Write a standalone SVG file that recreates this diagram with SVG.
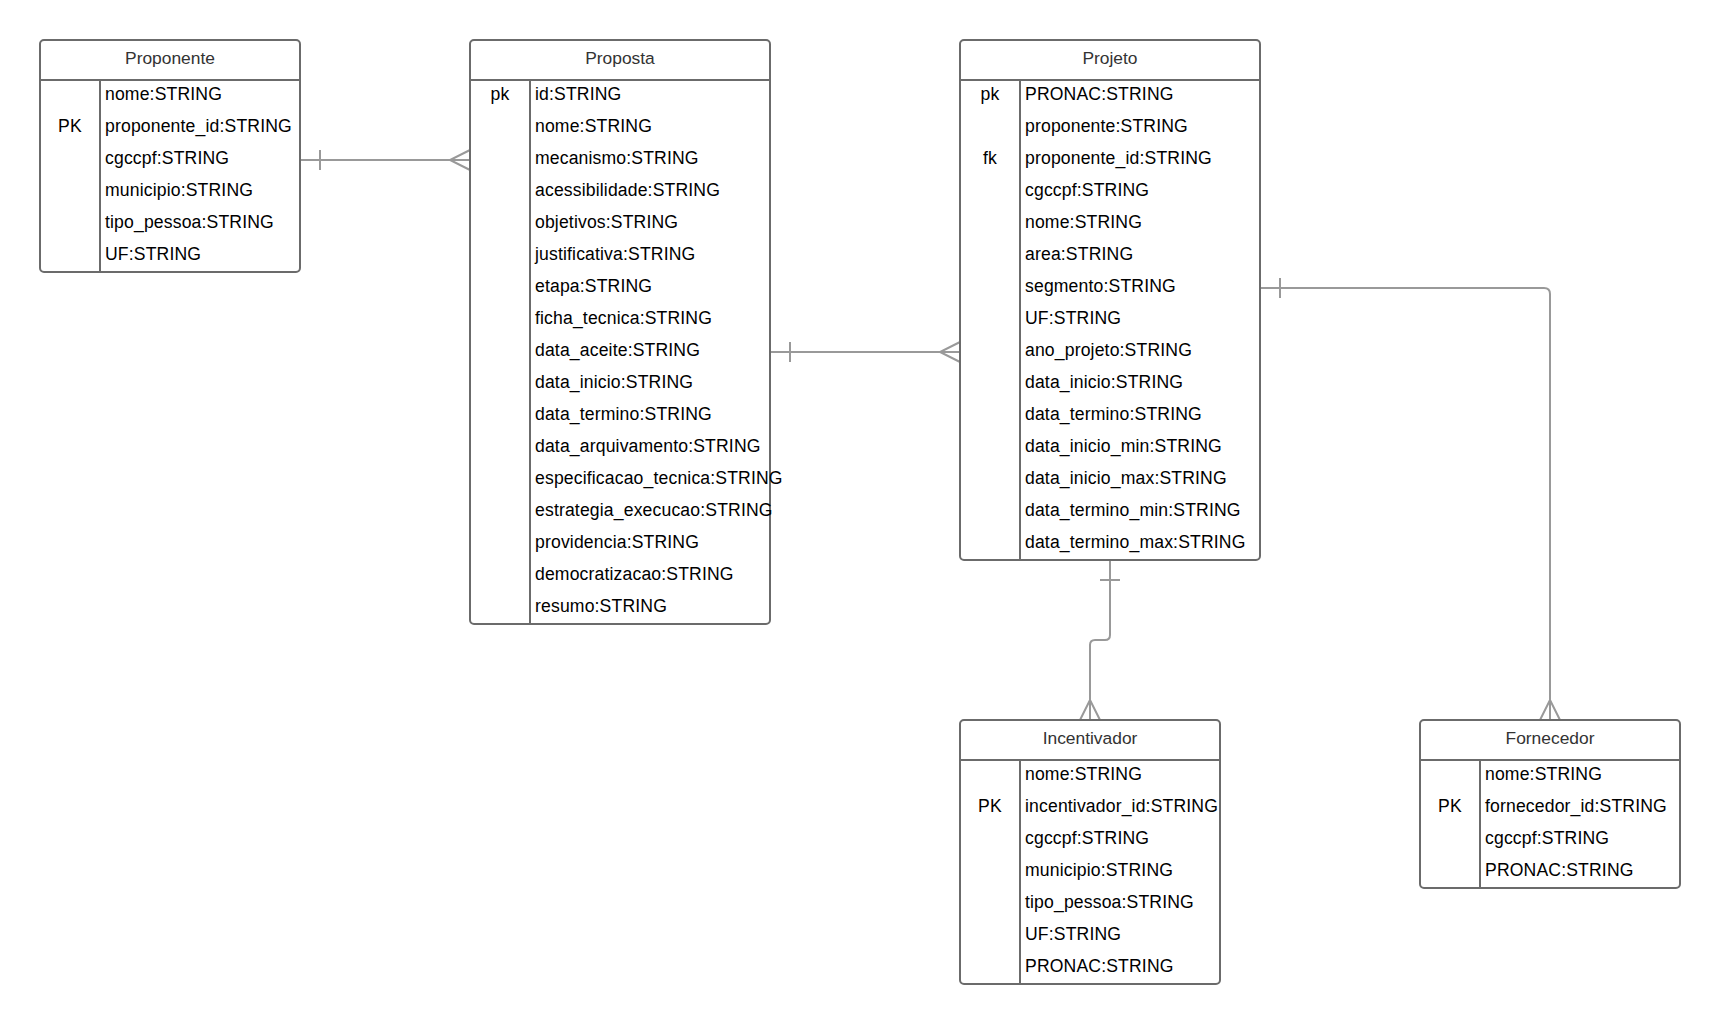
<svg xmlns="http://www.w3.org/2000/svg" width="1720" height="1024" viewBox="0 0 1720 1024">
<style>
.box{fill:#fff;stroke:#6b6b6b;stroke-width:2}
.ln{stroke:#6b6b6b;stroke-width:2;fill:none}
.t{font-family:"Liberation Sans",Arial,sans-serif;font-size:17.6px;letter-spacing:0.15px;fill:#000}
.h{font-family:"Liberation Sans",Arial,sans-serif;font-size:17.4px;fill:#333;text-anchor:middle}
.k{text-anchor:middle}
.c{stroke:#999;stroke-width:2;fill:none}
</style>
<rect width="1720" height="1024" fill="#fff"/>
<g id="connectors">
<path class="c" d="M300 160H470M320 150V170M470 150L450 160L470 170"/>
<path class="c" d="M770 352H960M790 342V362M960 342L940 352L960 362"/>
<path class="c" d="M1260 288H1544Q1550 288 1550 294V720M1280 278V298M1540 720L1550 700L1560 720"/>
<path class="c" d="M1110 560V635Q1110 640 1105 640H1095Q1090 640 1090 645V720M1100 580H1120M1080 720L1090 700L1100 720"/>
</g>
<g id="proponente">
<rect class="box" x="40" y="40" width="260" height="232" rx="4"/>
<path class="ln" d="M40 80H300M100 80V272"/>
<text class="h" x="170" y="63.5">Proponente</text>
<text class="t k" x="70" y="132">PK</text>
<text class="t" x="105" y="100">nome:STRING</text>
<text class="t" x="105" y="132">proponente_id:STRING</text>
<text class="t" x="105" y="164">cgccpf:STRING</text>
<text class="t" x="105" y="196">municipio:STRING</text>
<text class="t" x="105" y="228">tipo_pessoa:STRING</text>
<text class="t" x="105" y="260">UF:STRING</text>
</g>
<g id="proposta">
<rect class="box" x="470" y="40" width="300" height="584" rx="4"/>
<path class="ln" d="M470 80H770M530 80V624"/>
<text class="h" x="620" y="63.5">Proposta</text>
<text class="t k" x="500" y="100">pk</text>
<text class="t" x="535" y="100">id:STRING</text>
<text class="t" x="535" y="132">nome:STRING</text>
<text class="t" x="535" y="164">mecanismo:STRING</text>
<text class="t" x="535" y="196">acessibilidade:STRING</text>
<text class="t" x="535" y="228">objetivos:STRING</text>
<text class="t" x="535" y="260">justificativa:STRING</text>
<text class="t" x="535" y="292">etapa:STRING</text>
<text class="t" x="535" y="324">ficha_tecnica:STRING</text>
<text class="t" x="535" y="356">data_aceite:STRING</text>
<text class="t" x="535" y="388">data_inicio:STRING</text>
<text class="t" x="535" y="420">data_termino:STRING</text>
<text class="t" x="535" y="452">data_arquivamento:STRING</text>
<text class="t" x="535" y="484">especificacao_tecnica:STRING</text>
<text class="t" x="535" y="516">estrategia_execucao:STRING</text>
<text class="t" x="535" y="548">providencia:STRING</text>
<text class="t" x="535" y="580">democratizacao:STRING</text>
<text class="t" x="535" y="612">resumo:STRING</text>
</g>
<g id="projeto">
<rect class="box" x="960" y="40" width="300" height="520" rx="4"/>
<path class="ln" d="M960 80H1260M1020 80V560"/>
<text class="h" x="1110" y="63.5">Projeto</text>
<text class="t k" x="990" y="100">pk</text>
<text class="t k" x="990" y="164">fk</text>
<text class="t" x="1025" y="100">PRONAC:STRING</text>
<text class="t" x="1025" y="132">proponente:STRING</text>
<text class="t" x="1025" y="164">proponente_id:STRING</text>
<text class="t" x="1025" y="196">cgccpf:STRING</text>
<text class="t" x="1025" y="228">nome:STRING</text>
<text class="t" x="1025" y="260">area:STRING</text>
<text class="t" x="1025" y="292">segmento:STRING</text>
<text class="t" x="1025" y="324">UF:STRING</text>
<text class="t" x="1025" y="356">ano_projeto:STRING</text>
<text class="t" x="1025" y="388">data_inicio:STRING</text>
<text class="t" x="1025" y="420">data_termino:STRING</text>
<text class="t" x="1025" y="452">data_inicio_min:STRING</text>
<text class="t" x="1025" y="484">data_inicio_max:STRING</text>
<text class="t" x="1025" y="516">data_termino_min:STRING</text>
<text class="t" x="1025" y="548">data_termino_max:STRING</text>
</g>
<g id="incentivador">
<rect class="box" x="960" y="720" width="260" height="264" rx="4"/>
<path class="ln" d="M960 760H1220M1020 760V984"/>
<text class="h" x="1090" y="743.5">Incentivador</text>
<text class="t k" x="990" y="812">PK</text>
<text class="t" x="1025" y="780">nome:STRING</text>
<text class="t" x="1025" y="812">incentivador_id:STRING</text>
<text class="t" x="1025" y="844">cgccpf:STRING</text>
<text class="t" x="1025" y="876">municipio:STRING</text>
<text class="t" x="1025" y="908">tipo_pessoa:STRING</text>
<text class="t" x="1025" y="940">UF:STRING</text>
<text class="t" x="1025" y="972">PRONAC:STRING</text>
</g>
<g id="fornecedor">
<rect class="box" x="1420" y="720" width="260" height="168" rx="4"/>
<path class="ln" d="M1420 760H1680M1480 760V888"/>
<text class="h" x="1550" y="743.5">Fornecedor</text>
<text class="t k" x="1450" y="812">PK</text>
<text class="t" x="1485" y="780">nome:STRING</text>
<text class="t" x="1485" y="812">fornecedor_id:STRING</text>
<text class="t" x="1485" y="844">cgccpf:STRING</text>
<text class="t" x="1485" y="876">PRONAC:STRING</text>
</g>
</svg>
